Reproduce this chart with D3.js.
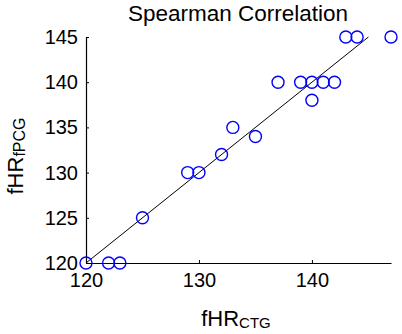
<!DOCTYPE html>
<html><head><meta charset="utf-8">
<script src="https://cdn.jsdelivr.net/npm/d3@7"></script>
<style>body{margin:0;background:#fff}svg{display:block}text{font-family:Arial,"Liberation Sans",sans-serif}</style>
</head><body><svg id="c" width="402" height="334"></svg>
<script>
const title = "Spearman Correlation";
const xValues = [120,122,123,125,129,130,132,133,135,137,139,140,140,141,142,143,144,147];
const yValues = [120,120,120,125,130,130,132,135,134,140,140,140,138,140,140,145,145,145];
const fitLine = [[120,120],[145,145]];
const xTicks = [120,130,140];
const yTicks = [120,125,130,135,140,145];

const svg = d3.select("#c");
const x = d3.scaleLinear().domain([120,147]).range([86,391]);
const y = d3.scaleLinear().domain([120,145]).range([263,37]);

const xAxis = d3.axisBottom(x).tickValues(xTicks).tickSizeInner(-3).tickSizeOuter(0).tickPadding(10);
const gx = svg.append("g").attr("transform","translate(0,263)").call(xAxis);
const yAxis = d3.axisLeft(y).tickValues(yTicks).tickSizeInner(-3).tickSizeOuter(0).tickPadding(8);
const gy = svg.append("g").attr("transform","translate(86,0)").call(yAxis);
[gx,gy].forEach(g=>{
  g.select(".domain").attr("stroke","#000").attr("stroke-width",1.2);
  g.selectAll(".tick line").attr("stroke","#000");
  g.selectAll(".tick text").attr("fill","#000").style("font-size","20px").style("font-family","Arial, 'Liberation Sans', sans-serif");
});

svg.append("line")
  .attr("x1",x(fitLine[0][0])).attr("y1",y(fitLine[0][1]))
  .attr("x2",x(fitLine[1][0])).attr("y2",y(fitLine[1][1]))
  .attr("stroke","#000").attr("stroke-width",1);

svg.append("g").selectAll("circle").data(xValues.map((v,i)=>[v,yValues[i]])).join("circle")
  .attr("cx",d=>x(d[0])).attr("cy",d=>y(d[1])).attr("r",6)
  .attr("fill","none").attr("stroke","#0000ff").attr("stroke-width",1.4);

svg.append("text").attr("x",238).attr("y",21).attr("text-anchor","middle")
  .style("font-size","22.5px").text(title);

const xl = svg.append("text").attr("x",236).attr("y",326).attr("text-anchor","middle").style("font-size","22px");
xl.append("tspan").text("fHR");
xl.append("tspan").attr("dy",2).style("font-size","15px").text("CTG");

const yl = svg.append("text").attr("transform","translate(23,156) rotate(-90)").attr("text-anchor","middle").style("font-size","22px");
yl.append("tspan").text("fHR");
yl.append("tspan").attr("dy",2).style("font-size","16px").text("fPCG");
</script></body></html>
